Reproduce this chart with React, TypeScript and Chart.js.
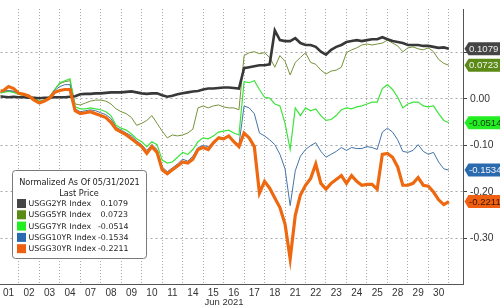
import React, { useEffect, useRef } from "react";
import { Chart, registerables } from "chart.js";

Chart.register(...registerables);

// ---- data ----
const dayLabels = ["01", "02", "03", "04", "07", "08", "09", "10", "11", "14", "15", "16", "17", "18", "21", "22", "23", "24", "25", "28", "29", "30"];
const axisTitle = "Jun 2021";
const legendTitle = "Normalized As Of 05/31/2021";
const legendSubtitle = "Last Price";
const seriesNames = ["USGG2YR Index", "USGG5YR Index", "USGG7YR Index", "USGG10YR Index", "USGG30YR Index"];
const lastPrices = [0.1079, 0.0723, -0.0514, -0.1534, -0.2211];
const yTickValues = [-0.3, -0.2, -0.1, 0, 0.1];
const sampleStep = 0.25; // trading days between samples

const usgg2yr = [
  0.0056, 0.0046, 0.0035, 0.0046, 0.0035, 0.0035, 0.0025, 0.0025, 0.0015, 0.0025,
  0.0025, 0.0035, 0.0035, 0.0035, 0.0046, 0.0056, 0.0098, 0.0108, 0.0108, 0.0119,
  0.0119, 0.0129, 0.0140, 0.0140, 0.0140, 0.0150, 0.0160, 0.0140, 0.0119, 0.0108,
  0.0119, 0.0119, 0.0077, 0.0046, 0.0067, 0.0098, 0.0119, 0.0140, 0.0160, 0.0171,
  0.0202, 0.0223, 0.0223, 0.0233, 0.0244, 0.0244, 0.0233, 0.0223, 0.0660, 0.0681,
  0.0702, 0.0723, 0.0723, 0.0744, 0.1473, 0.1265, 0.1244, 0.1244, 0.1306, 0.1202,
  0.1160, 0.1160, 0.1119, 0.1015, 0.0952, 0.1056, 0.1119, 0.1160, 0.1223, 0.1244,
  0.1265, 0.1244, 0.1265, 0.1285, 0.1285, 0.1327, 0.1285, 0.1244, 0.1223, 0.1202,
  0.1160, 0.1160, 0.1160, 0.1140, 0.1140, 0.1119, 0.1098, 0.1108, 0.1079,
];
const usgg5yr = [
  0.0140, 0.0160, 0.0181, 0.0160, 0.0119, 0.0098, 0.0077, 0.0015, -0.0048, -0.0027,
  0.0056, 0.0202, 0.0327, 0.0369, 0.0390, -0.0110, -0.0131, -0.0090, -0.0048, -0.0027,
  -0.0027, -0.0048, -0.0110, -0.0215, -0.0277, -0.0319, -0.0402, -0.0569, -0.0527, -0.0465,
  -0.0360, -0.0527, -0.0694, -0.0840, -0.0777, -0.0798, -0.0777, -0.0735, -0.0652, -0.0194,
  -0.0152, -0.0194, -0.0152, -0.0131, -0.0173, -0.0194, -0.0194, -0.0235, 0.0931, 0.0994,
  0.1015, 0.0973, 0.0994, 0.0890, 0.0681, 0.0931, 0.0806, 0.0515, 0.0785, 0.0890,
  0.0994, 0.0785, 0.0744, 0.0619, 0.0535, 0.0598, 0.0619, 0.0681, 0.0994, 0.1056,
  0.1098, 0.1160, 0.1181, 0.1160, 0.1181, 0.1202, 0.1265, 0.1202, 0.1140, 0.1015,
  0.1098, 0.1119, 0.1077, 0.1056, 0.1098, 0.1015, 0.0848, 0.0765, 0.0723,
];
const usgg7yr = [
  0.0119, 0.0140, 0.0160, 0.0140, 0.0098, 0.0077, 0.0056, -0.0006, -0.0048, -0.0027,
  0.0035, 0.0202, 0.0348, 0.0390, 0.0431, -0.0173, -0.0215, -0.0215, -0.0194, -0.0215,
  -0.0235, -0.0277, -0.0360, -0.0569, -0.0631, -0.0673, -0.0756, -0.0860, -0.0923, -0.1027,
  -0.0923, -0.0985, -0.1319, -0.1381, -0.1360, -0.1256, -0.1152, -0.1194, -0.1090, -0.0923,
  -0.0840, -0.0860, -0.0798, -0.0715, -0.0694, -0.0673, -0.0735, -0.0777, 0.0369, 0.0348,
  0.0390, 0.0202, 0.0035, 0.0015, -0.0110, -0.0152, -0.0527, -0.1090, -0.0194, -0.0360,
  -0.0194, -0.0256, -0.0215, -0.0360, -0.0465, -0.0444, -0.0360, -0.0235, -0.0194, -0.0215,
  -0.0173, -0.0152, -0.0110, -0.0069, -0.0069, 0.0223, 0.0306, 0.0202, 0.0035, -0.0194,
  -0.0110, -0.0069, -0.0069, -0.0152, -0.0173, -0.0152, -0.0319, -0.0465, -0.0514,
];
const usgg10yr = [
  0.0140, 0.0160, 0.0181, 0.0160, 0.0119, 0.0098, 0.0077, -0.0006, -0.0069, -0.0027,
  0.0035, 0.0181, 0.0265, 0.0306, 0.0306, -0.0215, -0.0277, -0.0256, -0.0235, -0.0256,
  -0.0298, -0.0340, -0.0423, -0.0610, -0.0673, -0.0735, -0.0798, -0.0902, -0.0985, -0.1110,
  -0.0985, -0.1090, -0.1465, -0.1569, -0.1485, -0.1402, -0.1298, -0.1340, -0.1235, -0.1048,
  -0.1006, -0.1027, -0.0944, -0.0819, -0.0840, -0.0798, -0.0923, -0.0985, -0.0152, -0.0194,
  -0.0319, -0.0735, -0.0798, -0.0881, -0.0985, -0.1194, -0.1506, -0.2298, -0.1548, -0.1235,
  -0.1090, -0.1006, -0.0944, -0.1131, -0.1256, -0.1194, -0.1131, -0.1048, -0.1110, -0.1048,
  -0.1069, -0.1069, -0.1027, -0.1048, -0.1090, -0.0715, -0.0631, -0.0715, -0.0881, -0.1131,
  -0.1152, -0.1110, -0.0985, -0.1131, -0.1194, -0.1152, -0.1360, -0.1506, -0.1534,
];
const usgg30yr = [
  0.0160, 0.0181, 0.0265, 0.0223, 0.0119, 0.0098, 0.0056, -0.0027, -0.0090, -0.0048,
  0.0015, 0.0140, 0.0181, 0.0202, 0.0202, -0.0256, -0.0319, -0.0298, -0.0277, -0.0319,
  -0.0360, -0.0402, -0.0506, -0.0652, -0.0715, -0.0777, -0.0860, -0.0944, -0.1027, -0.1173,
  -0.1027, -0.1152, -0.1527, -0.1610, -0.1527, -0.1444, -0.1360, -0.1381, -0.1298, -0.1090,
  -0.1048, -0.1090, -0.0944, -0.0840, -0.0860, -0.0798, -0.0923, -0.1027, -0.0735, -0.0840,
  -0.1027, -0.2030, -0.1777, -0.1923, -0.2135, -0.2340, -0.2694, -0.3444, -0.2506, -0.2069,
  -0.1860, -0.1715, -0.1402, -0.1819, -0.1944, -0.1819, -0.1735, -0.1652, -0.1819, -0.1652,
  -0.1777, -0.1860, -0.1840, -0.1840, -0.1944, -0.1194, -0.1173, -0.1256, -0.1465, -0.1860,
  -0.1860, -0.1819, -0.1694, -0.1860, -0.1881, -0.2006, -0.2173, -0.2277, -0.2211,
];

// ---- styles ----
const seriesValues = [usgg2yr, usgg5yr, usgg7yr, usgg10yr, usgg30yr];
const lineColors = ["#383838", "#76923a", "#3ce43c", "#4474a8", "#ee6810"];
const lineWidths = [2.6, 1, 1.2, 1, 3.2];
const drawOrder = [1, 4, 3, 2, 0];
const swatchColors = ["#454545", "#5b8a16", "#22ee22", "#2a6bb0", "#ee6010"];
const tagColors = ["#454545", "#5b8a16", "#22ee22", "#2a6bb0", "#f06010"];
const tagTextColors = ["#eeeeee", "#f4f4f4", "#123a12", "#f4f4f4", "#3a1600"];
const LEGEND_FONT = "DejaVu Sans";
const NUM_FONT = "Liberation Sans";
const X_MIN = 0.107;
const X_MAX = 22.69;
const Y_MIN = -0.3986;
const Y_MAX = 0.1931;

const fmt = (v: number) => (v < 0 ? "-" : "") + Math.abs(v).toFixed(4);

const overlayPlugin = {
  id: "overlay",
  afterDraw(chart: any) {
    const ctx: CanvasRenderingContext2D = chart.ctx;
    const yScale = chart.scales.y;
    const area = chart.chartArea;
    ctx.save();

    // axis title
    ctx.font = `9.5px "${NUM_FONT}"`;
    ctx.fillStyle = "#333";
    ctx.textAlign = "center";
    ctx.textBaseline = "middle";
    ctx.fillText(axisTitle, 224, 302.5);

    // legend box
    const bx = 12.5, by = 170.5, bw = 134, bh = 88, r = 3;
    ctx.beginPath();
    ctx.moveTo(bx + r, by);
    ctx.lineTo(bx + bw - r, by);
    ctx.arcTo(bx + bw, by, bx + bw, by + r, r);
    ctx.lineTo(bx + bw, by + bh - r);
    ctx.arcTo(bx + bw, by + bh, bx + bw - r, by + bh, r);
    ctx.lineTo(bx + r, by + bh);
    ctx.arcTo(bx, by + bh, bx, by + bh - r, r);
    ctx.lineTo(bx, by + r);
    ctx.arcTo(bx, by, bx + r, by, r);
    ctx.closePath();
    ctx.fillStyle = "#ffffff";
    ctx.fill();
    ctx.strokeStyle = "#7a7a7a";
    ctx.lineWidth = 1;
    ctx.stroke();

    ctx.fillStyle = "#222";
    ctx.font = `8.2px "${LEGEND_FONT}"`;
    ctx.textAlign = "center";
    ctx.fillText(legendTitle, 79.5, 183);
    ctx.fillText(legendSubtitle, 79, 193.5);
    ctx.textAlign = "left";
    ctx.font = `7.9px "${LEGEND_FONT}"`;
    seriesNames.forEach((name, i) => {
      const ry = 203.5 + i * 11.3;
      ctx.fillStyle = swatchColors[i];
      ctx.fillRect(17, ry - 4.5, 9, 9);
      ctx.fillStyle = "#222";
      ctx.fillText(name, 28.5, ry + 0.5);
      ctx.fillText(fmt(lastPrices[i]), lastPrices[i] < 0 ? 98 : 100.5, ry + 0.5);
    });

    // last-value tags on the right axis
    ctx.font = `9.6px "${NUM_FONT}"`;
    lastPrices.forEach((v, i) => {
      const py = yScale.getPixelForValue(v);
      const x0 = area.right + 1.5;
      ctx.beginPath();
      ctx.moveTo(x0, py);
      ctx.lineTo(x0 + 4, py - 6.5);
      ctx.lineTo(505, py - 6.5);
      ctx.lineTo(505, py + 6.5);
      ctx.lineTo(x0 + 4, py + 6.5);
      ctx.closePath();
      ctx.fillStyle = tagColors[i];
      ctx.fill();
      ctx.fillStyle = tagTextColors[i];
      ctx.textAlign = "left";
      ctx.textBaseline = "middle";
      ctx.fillText(fmt(v), x0 + 4.5, py + 0.5);
    });
    ctx.restore();
  },
};

export default function App() {
  const canvasRef = useRef<HTMLCanvasElement | null>(null);

  useEffect(() => {
    const canvas = canvasRef.current;
    if (!canvas) return;
    const datasets = seriesValues.map((vals, s) => ({
      label: seriesNames[s],
      data: vals.map((v, i) => ({ x: i * sampleStep, y: v })),
      borderColor: lineColors[s],
      backgroundColor: lineColors[s],
      borderWidth: lineWidths[s],
      pointRadius: 0,
      tension: 0,
      order: drawOrder[s],
      xAxisID: "x",
      yAxisID: "y",
    }));

    const chart = new Chart(canvas, {
      type: "line",
      data: { datasets },
      options: {
        animation: false,
        responsive: false,
        maintainAspectRatio: false,
        layout: { padding: 0 },
        plugins: { legend: { display: false }, tooltip: { enabled: false } },
        scales: {
          x: {
            type: "linear",
            position: "bottom",
            min: X_MIN,
            max: X_MAX,
            afterBuildTicks: (s: any) => {
              s.ticks = dayLabels.map((_, i) => ({ value: i + 0.5 }));
            },
            ticks: {
              autoSkip: false,
              maxRotation: 0,
              padding: 3,
              color: "#333",
              font: { family: NUM_FONT, size: 10 },
              callback: (_v: any, i: number) => dayLabels[i],
            },
            grid: { display: false, drawTicks: false },
            border: { display: true, color: "#555", width: 1 },
            afterFit: (s: any) => {
              s.height = 23;
            },
          },
          xg: {
            type: "linear",
            position: "top",
            min: X_MIN,
            max: X_MAX,
            afterBuildTicks: (s: any) => {
              s.ticks = dayLabels.map((_, i) => ({ value: i + 1 }));
            },
            ticks: { display: false },
            grid: { display: true, color: "#a8a8a8", lineWidth: 1, drawTicks: false },
            border: { display: false, dash: [1, 2] },
            afterFit: (s: any) => {
              s.height = 0;
            },
          },
          y: {
            type: "linear",
            position: "right",
            min: Y_MIN,
            max: Y_MAX,
            afterBuildTicks: (s: any) => {
              s.ticks = yTickValues.map((v) => ({ value: v }));
            },
            ticks: {
              padding: 3,
              color: "#333",
              font: { family: NUM_FONT, size: 10.3 },
              callback: (v: any) => Number(v).toFixed(2),
            },
            grid: { color: "#a8a8a8", lineWidth: 1, drawTicks: true, tickLength: 4, tickColor: "#444" },
            border: { display: true, color: "#555", width: 1, dash: [2, 3] },
            afterFit: (s: any) => {
              s.width = 37;
            },
          },
        },
      } as any,
      plugins: [overlayPlugin],
    });
    return () => chart.destroy();
  }, []);

  return (
    <div style={{ position: "fixed", left: 0, top: 0, width: 500, height: 307, background: "#fff" }}>
      <canvas ref={canvasRef} width={500} height={307} style={{ display: "block", width: 500, height: 307 }} />
    </div>
  );
}
